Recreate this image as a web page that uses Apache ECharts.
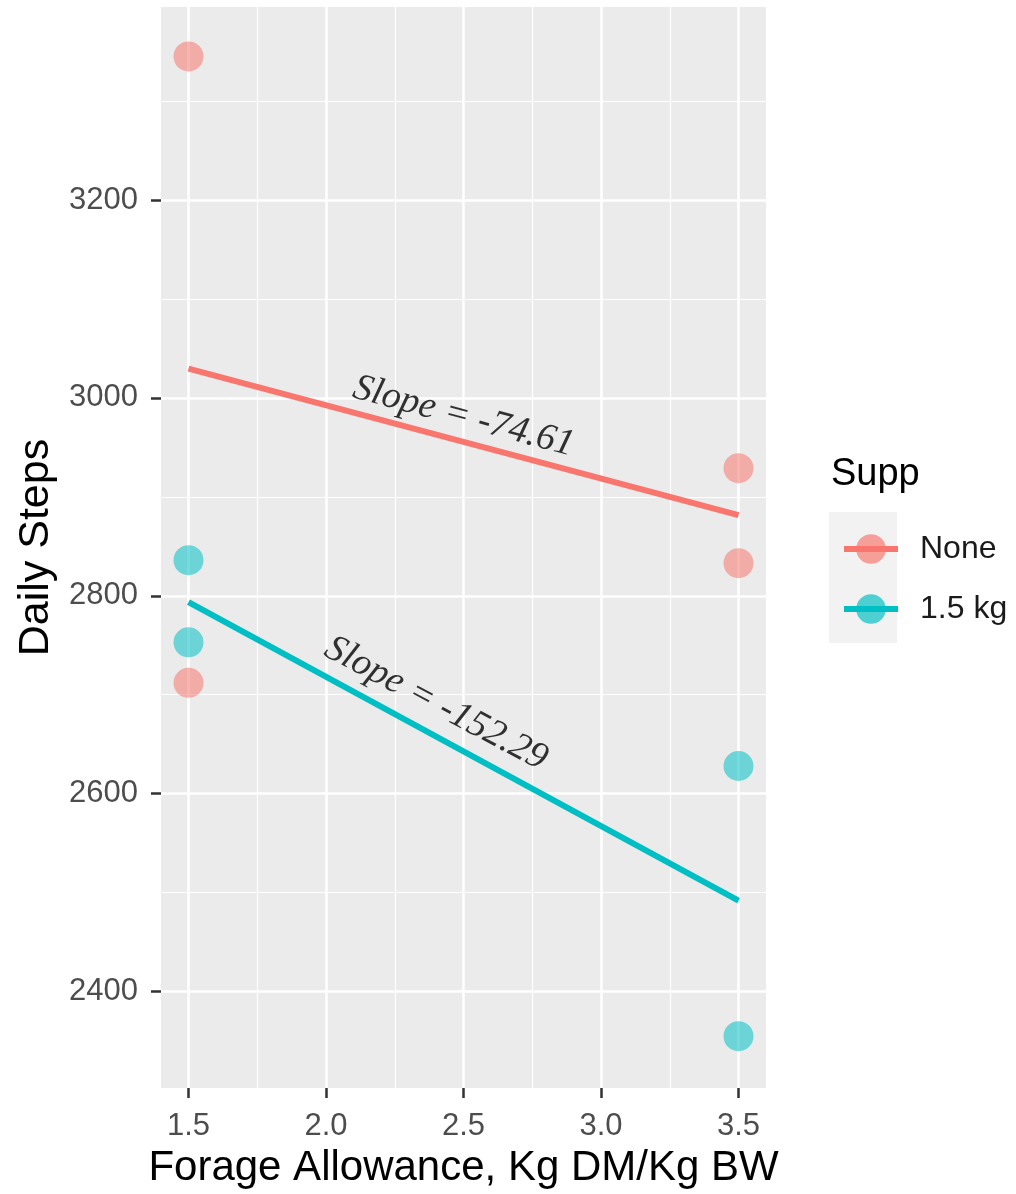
<!DOCTYPE html>
<html>
<head>
<meta charset="utf-8">
<script src="https://cdn.jsdelivr.net/npm/echarts@6/dist/echarts.min.js"></script>
<style>
  html, body { margin: 0; padding: 0; background: #ffffff; }
  #chart { width: 1016px; height: 1194px; }
</style>
</head>
<body>
<div id="chart"></div>
<script>
// ---- data ----
const groups = ['None', '1.5 kg'];
const xNone = [1.5, 1.5, 3.5, 3.5];
const yNone = [3345, 2712, 2929, 2833];
const xSupp = [1.5, 1.5, 3.5, 3.5];
const ySupp = [2836, 2753, 2628, 2355];
// fitted regression line end points (x = 1.5 and x = 3.5)
const fitX = [1.5, 3.5];
const fitNone = [3029.5, 2881.5];
const fitSupp = [2793.5, 2492];
// slope annotations
const annotText = ['Slope = -74.61', 'Slope = -152.29'];
const annotX = [2.5, 2.40];
const annotY = [2981, 2691];
const xTicks = [1.5, 2.0, 2.5, 3.0, 3.5];
const yTicks = [2400, 2600, 2800, 3000, 3200];

const colNone = '#F8766D';
const colSupp = '#00BFC4';
const ptNone = 'rgba(248,118,109,0.68)';
const ptSupp = 'rgba(0,191,196,0.68)';

const zip = (xs, ys) => xs.map((x, i) => [x, ys[i]]);

const chart = echarts.init(document.getElementById('chart'), null, { renderer: 'canvas' });

const tickLabelStyle = {
  fontFamily: 'Liberation Sans',
  fontSize: 31,
  color: '#4D4D4D'
};

const option = {
  animation: false,
  backgroundColor: '#ffffff',
  grid: {
    left: 161, right: 250, top: 7, bottom: 104,
    show: true, backgroundColor: '#EBEBEB', borderWidth: 0
  },
  xAxis: {
    type: 'value',
    min: 1.4, max: 3.6,
    name: 'Forage Allowance, Kg DM/Kg BW',
    nameLocation: 'middle',
    nameGap: 49,
    nameTextStyle: { fontFamily: 'Liberation Sans', fontSize: 42, color: '#000000' },
    axisLine: { show: false },
    axisTick: { show: true, length: 10, customValues: xTicks, lineStyle: { color: '#333333', width: 2.5 } },
    axisLabel: Object.assign({ margin: 23, customValues: xTicks, formatter: v => v.toFixed(1) }, tickLabelStyle),
    splitLine: { show: true, lineStyle: { color: '#ffffff', width: 2.5 } },
    minorTick: { show: false, splitNumber: 2 },
    minorSplitLine: { show: true, lineStyle: { color: '#ffffff', width: 1.2 } }
  },
  yAxis: {
    type: 'value',
    min: 2302.5, max: 3395,
    name: 'Daily Steps',
    nameLocation: 'middle',
    nameGap: 99,
    nameTextStyle: { fontFamily: 'Liberation Sans', fontSize: 43, color: '#000000' },
    axisLine: { show: false },
    axisTick: { show: true, length: 10, customValues: yTicks, lineStyle: { color: '#333333', width: 2.5 } },
    axisLabel: Object.assign({ margin: 23, customValues: yTicks, formatter: v => String(v) }, tickLabelStyle),
    splitLine: { show: true, lineStyle: { color: '#ffffff', width: 2.5 } },
    minorTick: { show: false, splitNumber: 2 },
    minorSplitLine: { show: true, lineStyle: { color: '#ffffff', width: 1.2 } }
  },
  legend: {
    data: groups,
    orient: 'vertical',
    left: 836,
    top: 528,
    itemWidth: 54,
    itemHeight: 37,
    itemGap: 28,
    selectedMode: false,
    lineStyle: { width: 6 },
    textStyle: { fontFamily: 'Liberation Sans', fontSize: 32, color: '#1a1a1a', padding: [0, 0, 0, 17] }
  },
  graphic: [
    { type: 'rect', left: 829, top: 512, z: -1, shape: { width: 68, height: 131 }, style: { fill: '#F2F2F2' } },
    { type: 'text', left: 831, top: 456, style: { text: 'Supp', fontFamily: 'Liberation Sans', fontSize: 38, fill: '#000000' } }
  ],
  series: [
    {
      name: groups[0], type: 'line', data: zip(fitX, fitNone),
      symbol: 'circle', showSymbol: false, z: 3,
      itemStyle: { color: ptNone },
      lineStyle: { color: colNone, width: 6 }
    },
    {
      name: groups[1], type: 'line', data: zip(fitX, fitSupp),
      symbol: 'circle', showSymbol: false, z: 3,
      itemStyle: { color: ptSupp },
      lineStyle: { color: colSupp, width: 6 }
    },
    {
      name: groups[0], type: 'scatter', data: zip(xNone, yNone),
      symbolSize: 30, z: 2, itemStyle: { color: ptNone }
    },
    {
      name: groups[1], type: 'scatter', data: zip(xSupp, ySupp),
      symbolSize: 30, z: 2, itemStyle: { color: ptSupp }
    },
    {
      name: 'annot0', type: 'scatter', data: [[annotX[0], annotY[0]]],
      symbolSize: 0, z: 4, silent: true,
      label: {
        show: true, position: 'inside', formatter: annotText[0], rotate: -15,
        fontFamily: 'Liberation Serif', fontStyle: 'italic', fontSize: 38, color: '#000000',
        textBorderWidth: 0
      }
    },
    {
      name: 'annot1', type: 'scatter', data: [[annotX[1], annotY[1]]],
      symbolSize: 0, z: 4, silent: true,
      label: {
        show: true, position: 'inside', formatter: annotText[1], rotate: -28,
        fontFamily: 'Liberation Serif', fontStyle: 'italic', fontSize: 38, color: '#000000',
        textBorderWidth: 0
      }
    }
  ]
};

chart.setOption(option);
</script>
</body>
</html>
